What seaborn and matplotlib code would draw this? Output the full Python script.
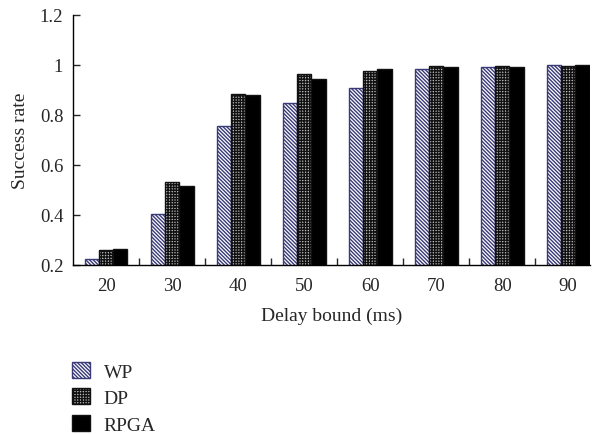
import matplotlib
matplotlib.use("Agg")
import matplotlib.pyplot as plt
import seaborn as sns
import pandas as pd
from matplotlib.patches import Patch

delays = ["20", "30", "40", "50", "60", "70", "80", "90"]
wp = [0.224, 0.404, 0.755, 0.847, 0.907, 0.983, 0.993, 0.999]
dp = [0.260, 0.531, 0.883, 0.964, 0.976, 0.997, 0.997, 0.998]
rpga = [0.264, 0.517, 0.880, 0.945, 0.984, 0.991, 0.993, 1.000]
series = ["WP", "DP", "RPGA"]
yticks = [0.2, 0.4, 0.6, 0.8, 1.0, 1.2]
ytick_labels = ["0.2", "0.4", "0.6", "0.8", "1", "1.2"]

rows = []
for name, vals in zip(series, [wp, dp, rpga]):
    for d, v in zip(delays, vals):
        rows.append({"Delay": d, "Method": name, "Rate": v})
df = pd.DataFrame(rows)

sns.set_style("white")
plt.rcParams["font.family"] = ["Liberation Serif", "DejaVu Serif"]
plt.rcParams["hatch.linewidth"] = 1.0

fig = plt.figure(figsize=(5.99, 4.35), dpi=100)
ax = fig.add_axes([73 / 599, 1 - 266 / 435, (590 - 73) / 599, 250 / 435])

sns.barplot(data=df, x="Delay", y="Rate", hue="Method", order=delays,
            hue_order=series, width=0.65, ax=ax, legend=False,
            palette=["white", "white", "black"], saturation=1)

styles = [
    dict(face="white", edge="#3a3a78", hatch="\\" * 9, hc="#555555"),
    dict(face="#bbbbbb", edge="#111111", hatch="+" * 6, hc="#111111"),
    dict(face="black", edge="#111111", hatch=None, hc="#111111"),
]
for cont, st in zip(ax.containers, styles):
    for p in cont.patches:
        p.set_facecolor(st["face"])
        p.set_edgecolor(st["edge"])
        p.set_linewidth(1.0)
        if st["hatch"]:
            p.set_hatch(st["hatch"])
            if hasattr(p, "set_hatchcolor"):
                p.set_hatchcolor(st["hc"])

ax.set_ylim(0.2, 1.2)
ax.set_xlim(-0.5, 7.33)
ax.set_yticks(yticks)
ax.set_yticklabels(ytick_labels)
ax.set_xticks(range(len(delays)))
ax.set_xticklabels(delays)
ax.set_xticks([i + 0.5 for i in range(len(delays) - 1)], minor=True)
ax.tick_params(axis="x", which="major", length=0, labelsize=13.5, pad=9)
ax.tick_params(axis="x", which="minor", direction="in", length=5, width=1, bottom=True)
ax.tick_params(axis="y", direction="in", length=5, width=1, left=True, labelsize=13.5, pad=7)
for s in ["top", "right"]:
    ax.spines[s].set_visible(False)
for s in ["left", "bottom"]:
    ax.spines[s].set_color("black")
    ax.spines[s].set_linewidth(1)
ax.set_xlabel("Delay bound (ms)", fontsize=14, labelpad=9)
ax.set_ylabel("Success rate", fontsize=14, labelpad=8)

handles = []
for name, st in zip(series, styles):
    handles.append(Patch(facecolor=st["face"], edgecolor=st["edge"],
                         hatch=st["hatch"], label=name))
fig.legend(handles=handles, loc="upper left", bbox_to_anchor=(64 / 599, 1 - 355 / 435),
           frameon=False, fontsize=14, handlelength=0.95, handleheight=0.9,
           handletextpad=0.7, labelspacing=0.4, borderaxespad=0)

fig.savefig("out.png", dpi=100)
